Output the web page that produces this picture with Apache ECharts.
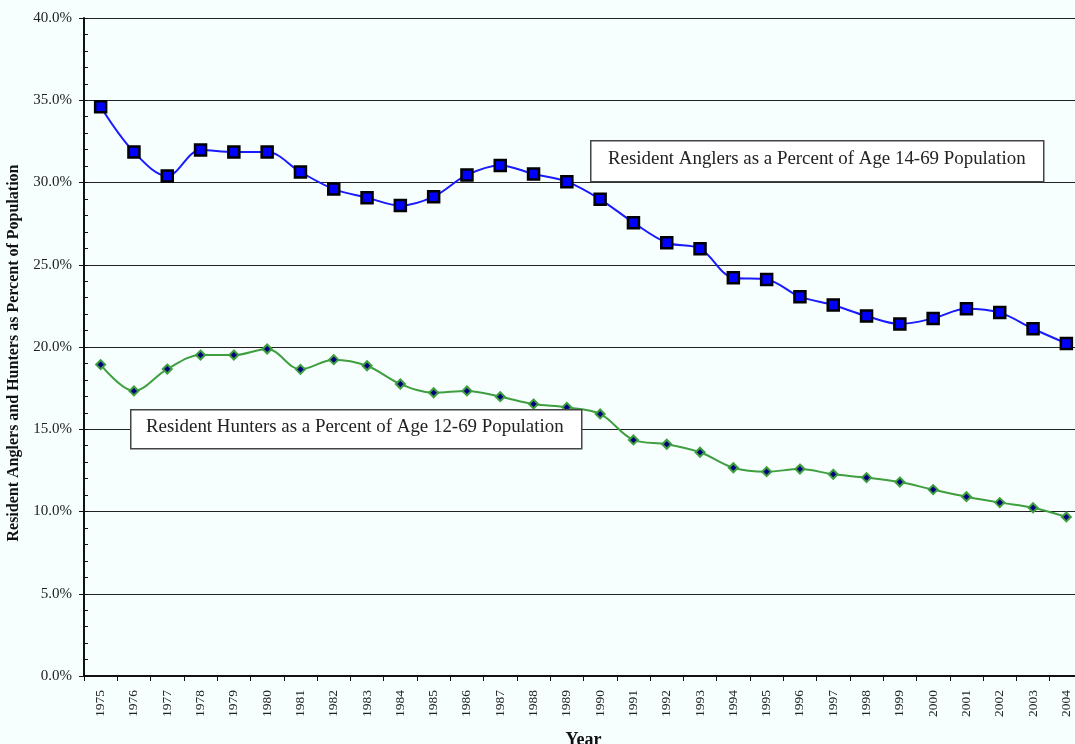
<!DOCTYPE html>
<html>
<head>
<meta charset="utf-8">
<script src="https://cdn.jsdelivr.net/npm/echarts@6/dist/echarts.min.js"></script>
<style>
html,body{margin:0;padding:0;background:#f6fffe;overflow:hidden;}
#chart{width:1075px;height:744px;}
</style>
</head>
<body>
<div id="chart"></div>
<script>
var years = ['1975','1976','1977','1978','1979','1980','1981','1982','1983','1984','1985','1986','1987','1988','1989','1990','1991','1992','1993','1994','1995','1996','1997','1998','1999','2000','2001','2002','2003','2004'];
var anglers = [34.6,31.85,30.4,31.98,31.85,31.85,30.64,29.6,29.08,28.6,29.14,30.46,31.04,30.52,30.05,28.98,27.56,26.34,25.98,24.21,24.11,23.06,22.55,21.88,21.4,21.74,22.33,22.09,21.11,20.22];
var hunters = [18.93,17.33,18.66,19.51,19.51,19.88,18.64,19.23,18.86,17.75,17.22,17.33,16.98,16.53,16.33,15.93,14.35,14.09,13.6,12.66,12.42,12.58,12.26,12.06,11.79,11.33,10.9,10.54,10.23,9.67];
var anglerLabel = 'Resident Anglers as a Percent of Age 14-69 Population';
var hunterLabel = 'Resident Hunters as a Percent of Age 12-69 Population';
var yTitle = 'Resident Anglers and Hunters as Percent of Population';
var xTitle = 'Year';

var serif = '"Liberation Serif","Times New Roman",serif';
var chart = echarts.init(document.getElementById('chart'), null, {renderer:'canvas', width: 1075, height: 744});
chart.setOption({
  backgroundColor: '#f6fffe',
  animation: false,
  grid: {left: 84, top: 18, right: -8, height: 658, containLabel: false, outerBoundsMode: 'none'},
  xAxis: {
    type: 'category',
    data: years,
    boundaryGap: true,
    name: xTitle,
    nameLocation: 'middle',
    nameGap: 55,
    nameTextStyle: {fontFamily: serif, fontWeight: 'bold', fontSize: 18, color: '#111'},
    axisLine: {lineStyle: {color: '#111', width: 2}},
    axisTick: {show: true, length: 5, alignWithLabel: false, lineStyle: {color: '#111', width: 1}},
    axisLabel: {rotate: 90, fontFamily: serif, fontSize: 13.5, color: '#222', margin: 14, interval: 0},
    splitLine: {show: false}
  },
  yAxis: [{
    type: 'value',
    min: 0, max: 40, interval: 5,
    name: yTitle,
    nameLocation: 'middle',
    nameGap: 58,
    nameTextStyle: {fontFamily: serif, fontWeight: 'bold', fontSize: 16, color: '#111', padding: [0, 12, 0, 0]},
    axisLine: {show: true, lineStyle: {color: '#111', width: 2}},
    axisTick: {show: true, length: 5, lineStyle: {color: '#111', width: 1}},
    axisLabel: {fontFamily: serif, fontSize: 15, color: '#222', margin: 12,
      formatter: function (v) { return v.toFixed(1) + '%'; }},
    splitLine: {show: true, lineStyle: {color: '#222', width: 1}}
  }, {
    type: 'value',
    position: 'left',
    min: 0, max: 40, interval: 1,
    axisLine: {show: false},
    axisTick: {show: true, inside: true, length: 4, lineStyle: {color: '#111', width: 1}},
    axisLabel: {show: false},
    splitLine: {show: false}
  }],
  series: [{
    name: anglerLabel,
    type: 'line',
    data: anglers,
    smooth: 0.35,
    symbol: 'rect',
    symbolSize: 11,
    lineStyle: {color: '#1a1aff', width: 2},
    itemStyle: {color: '#0000ff', borderColor: '#000', borderWidth: 2.5},
    z: 3
  }, {
    name: hunterLabel,
    type: 'line',
    data: hunters,
    smooth: 0.35,
    symbol: 'diamond',
    symbolSize: 9,
    lineStyle: {color: '#3f9f3f', width: 2},
    itemStyle: {color: '#000080', borderColor: '#3f9f3f', borderWidth: 2},
    z: 3
  }],
  graphic: [{
    type: 'rect', left: 590, top: 140, z: 10,
    shape: {width: 453, height: 41},
    style: {fill: '#fff', stroke: '#444', lineWidth: 1.5}
  }, {
    type: 'text', left: 608, top: 150, z: 11,
    style: {text: anglerLabel, font: '18.9px ' + serif, fill: '#222'}
  }, {
    type: 'rect', left: 130, top: 409, z: 10,
    shape: {width: 451, height: 39},
    style: {fill: '#fff', stroke: '#444', lineWidth: 1.5}
  }, {
    type: 'text', left: 146, top: 418, z: 11,
    style: {text: hunterLabel, font: '18.9px ' + serif, fill: '#222'}
  }]
});
</script>
</body>
</html>
